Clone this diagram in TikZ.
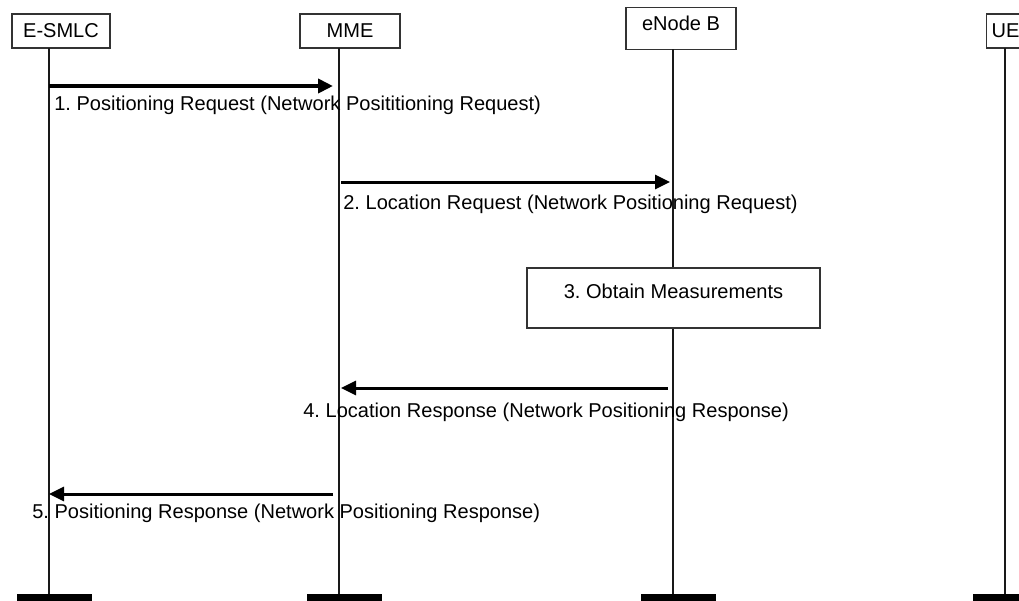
\documentclass[tikz,border=0pt]{standalone}
\usepackage{fontspec}
\setmainfont{Liberation Sans}
\usetikzlibrary{arrows.meta, positioning}
\frenchspacing

\begin{document}
\begin{tikzpicture}[
        entity/.style={rectangle, draw=black!80, fill=white, line width=0.6pt, minimum height=0.68cm, inner sep=0pt, font=\fontsize{11.4}{13}\selectfont},
        lifeline/.style={line width=1.1pt, color=black!90},
        endbar/.style={fill=black},
        step3/.style={rectangle, draw=black!80, fill=white, line width=0.6pt, minimum width=5.86cm, inner ysep=0.2cm, text height=0.4cm, text depth=0.4cm, font=\fontsize{11.4}{13}\selectfont},
        msg/.style={-{Triangle[length=0.3cm, width=0.28cm]}, line width=1.7pt},
        msgtext/.style={anchor=base west, inner sep=0pt, font=\fontsize{11.4}{13}\selectfont}
    ]
        \useasboundingbox (0,0) rectangle (20.38,-12);

        % Entites
        \node[entity, minimum width=1.96cm] (smlcbox) at (1.22,-0.62) {E-SMLC};
        \node[entity, minimum width=2cm] (mmebox) at (7,-0.62) {MME};
        \node[entity, anchor=north, minimum width=2.2cm, minimum height=0pt, inner ysep=0.18cm, text height=0.28cm, text depth=0.2cm] (enbbox) at (13.62,-0.14) {eNode B};
        \node[entity, anchor=west, inner xsep=0.1cm] (uebox) at (19.72,-0.62) {UE};

        % Lifelines
        \coordinate (smlc) at (0.98,-0.96);
        \coordinate (mme) at (6.78,-0.96);
        \coordinate (enb) at (13.46,-0.98);
        \coordinate (ue) at (20.1,-0.96);
        \coordinate (bottom) at (0,-11.88);

        \foreach \ent in {smlc, mme, enb, ue} {
            \draw[lifeline] (\ent) -- (\ent |- bottom);
            \fill[endbar] (\ent |- bottom) ++(-0.64,0) rectangle ++(1.5,-0.14);
        }

        % Messages
        \coordinate (m1) at (0,-1.72);
        \coordinate (m2) at (0,-3.64);
        \coordinate (m4) at (0,-7.76);
        \coordinate (m5) at (0,-9.88);

        \draw[msg, line width=2.8pt, shorten >=0.12cm] (smlc |- m1) -- (mme |- m1);
        \node[msgtext] (l1) at (1.08,-2.2) {1. Positioning Request (Network Posititioning Request)};

        \draw[msg, shorten <=0.04cm, shorten >=0.06cm] (mme |- m2) -- (enb |- m2);
        \node[msgtext] (l2) at (6.86,-4.18) {2. Location Request (Network Positioning Request)};

        \node[step3] (obtain) at (13.47,-5.96) {3. Obtain Measurements};

        \draw[msg, shorten <=0.1cm, shorten >=0.04cm] (enb |- m4) -- (mme |- m4);
        \node[msgtext] (l4) at (6.06,-8.34) {4. Location Response (Network Positioning Response)};

        \draw[msg, shorten <=0.12cm] (mme |- m5) -- (smlc |- m5);
        \node[msgtext] (l5) at (0.64,-10.36) {5. Positioning Response (Network Positioning Response)};
    \end{tikzpicture}
\end{document}
